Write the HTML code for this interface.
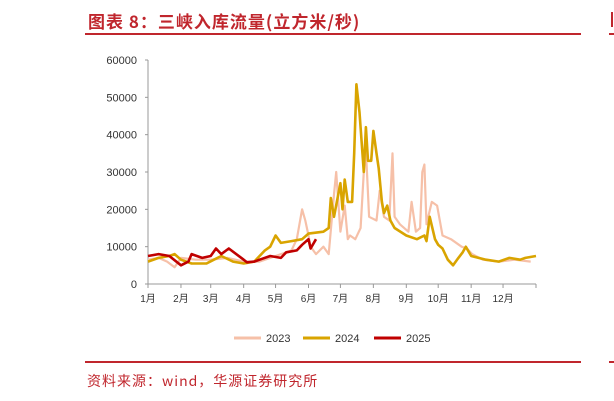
<!DOCTYPE html>
<html><head><meta charset="utf-8"><style>
body{margin:0;width:614px;height:401px;background:#fff;overflow:hidden;position:relative;font-family:"Liberation Sans","Noto Sans CJK SC",sans-serif}
.t{position:absolute;left:88px;top:8px;font-size:17px;font-weight:bold;color:#c0262d;font-family:"Noto Sans CJK SC",sans-serif;letter-spacing:1px}
.u{position:absolute;left:85px;top:33px;width:496px;height:2px;background:#c0262d}
.f{position:absolute;left:87px;top:371px;font-size:14px;color:#c0262d;font-family:"Noto Sans CJK SC",sans-serif;letter-spacing:1px}
.f2{position:absolute;left:85px;top:361px;width:496px;height:2px;background:#c0262d}
</style></head><body>
<div class="t">图表 8：三峡入库流量(立方米/秒)</div>
<div class="u"></div>
<div style="position:absolute;left:609px;top:33px;width:5px;height:2px;background:#c0262d"></div>
<div style="position:absolute;left:611px;top:12px;width:2px;height:15px;background:#c0262d"></div>
<div style="position:absolute;left:609px;top:361px;width:5px;height:2px;background:#c0262d"></div>
<div class="f2"></div>
<div class="f">资料来源：wind，华源证券研究所</div>
<svg id="c" width="614" height="401" style="position:absolute;left:0;top:0"></svg>
<script>
const yTicks=[0,10000,20000,30000,40000,50000,60000];
const months=["1月","2月","3月","4月","5月","6月","7月","8月","9月","10月","11月","12月"];
const monthDays=[0,31,59,90,120,151,181,212,243,273,304,334];
const d2023=[0,10,18,25,31,45,59,75,90,105,120,135,140,145,148,151,153,158,165,170,175,177,181,185,188,190,195,200,203,205,208,215,218,222,227,230,232,237,245,248,252,256,258,260,262,267,272,277,285,295,300,305,315,330,345,360];
const v2023=[6500,7000,6000,4500,7000,6500,6500,7000,6000,6000,7500,9000,12000,20000,17000,13000,10000,8000,10000,8000,24000,30000,14000,21000,12000,13000,12000,15000,30000,36000,18000,17000,25000,18000,17000,35000,18000,16000,14000,22000,14000,15000,30000,32000,16000,22000,21000,13000,12000,10000,9500,8000,6500,6000,6500,6000];
const d2024=[0,10,20,25,31,41,55,62,69,80,90,100,110,115,120,125,135,145,151,165,170,172,175,181,183,185,188,192,194,196,199,203,205,207,210,212,215,217,220,222,225,228,232,243,253,260,262,265,270,273,277,282,287,292,296,299,304,318,330,340,350,355,365];
const v2024=[6000,7000,7500,8000,6500,5500,5500,6500,7500,6000,5500,6000,9000,10000,13000,11000,11500,12000,13500,14000,15000,23000,18000,27000,20000,28000,22000,22000,35000,53500,46000,30000,42000,33000,33000,41000,35000,31000,22000,19000,21000,17000,15000,13000,12000,13000,11500,18000,12000,10500,9500,6500,5000,7000,8500,10000,7500,6500,6000,7000,6500,7000,7500];
const d2025=[0,10,20,31,38,41,51,59,64,69,76,90,93,100,105,115,125,130,140,145,151,153,158];
const v2025=[7500,8000,7500,5000,6000,8000,7000,7500,9500,8000,9500,6500,5800,6000,6500,7500,7000,8500,9000,10500,12000,9500,12000];
const svg=document.getElementById('c'),NS='http://www.w3.org/2000/svg';
const X0=148,X1=536,Y0=284,Y1=60;
const xs=d=>X0+(X1-X0)*d/365, ys=v=>Y0-(Y0-Y1)*v/60000;
function mk(t,a,p){const e=document.createElementNS(NS,t);for(const k in a)e.setAttribute(k,a[k]);(p||svg).appendChild(e);return e;}
let e=mk('line',{x1:X0,y1:Y1,x2:X0,y2:Y0,stroke:'#999'});


e=mk('line',{x1:X0,y1:Y0,x2:X1,y2:Y0,stroke:'#999'});


yTicks.forEach(v=>{const t=mk('text',{x:137,y:ys(v)+4,'text-anchor':'end','font-size':11,fill:'#333'});t.textContent=v;


const l=mk('line',{x1:X0-3,y1:ys(v),x2:X0,y2:ys(v),stroke:'#999'});

});
months.forEach((m,i)=>{const x=xs(monthDays[i]);const l=mk('line',{x1:x,y1:Y0,x2:x,y2:Y0+4,stroke:'#999'});


const t=mk('text',{x:x,y:Y0+18,'text-anchor':'middle','font-size':10,fill:'#333'});t.textContent=m;

});
const l=mk('line',{x1:X1,y1:Y0,x2:X1,y2:Y0+4,stroke:'#999'});
function series(d,v,c,w,n){const p=d.map((x,i)=>(i?'L':'M')+xs(x).toFixed(1)+','+ys(v[i]).toFixed(1)).join('');
const e=mk('path',{d:p,fill:'none',stroke:c,'stroke-width':w,'stroke-linejoin':'round'});

}
series(d2023,v2023,'#f6c0a8',2.2,'line-2023');
series(d2024,v2024,'#d9a400',2.6,'line-2024');
series(d2025,v2025,'#c00000',2.6,'line-2025');
const leg=[['2023','#f6c0a8',234],['2024','#d9a400',303],['2025','#c00000',374]];
leg.forEach(([n,c,x])=>{const g=mk('g',{});


mk('line',{x1:x,y1:338,x2:x+27,y2:338,stroke:c,'stroke-width':3},g);
const t=mk('text',{x:x+32,y:342,'font-size':11,fill:'#333'},g);t.textContent=n;});
</script>
</body></html>
